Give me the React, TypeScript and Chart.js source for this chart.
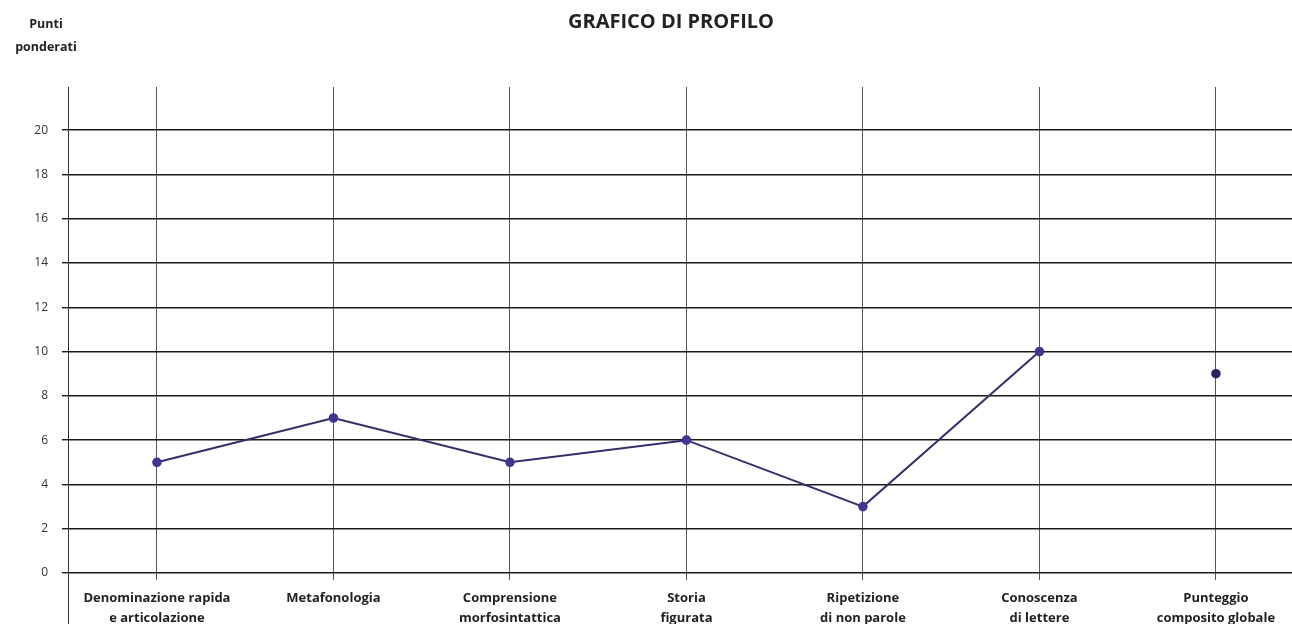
import React, { useEffect, useRef } from "react";
import { Chart, registerables } from "chart.js";

Chart.register(...registerables);

const categories: string[][] = [
  ["Denominazione rapida", "e articolazione"],
  ["Metafonologia"],
  ["Comprensione", "morfosintattica"],
  ["Storia", "figurata"],
  ["Ripetizione", "di non parole"],
  ["Conoscenza", "di lettere"],
  ["Punteggio", "composito globale"],
];
const profileValues: (number | null)[] = [5, 7, 5, 6, 3, 10, null];
const compositeValues: (number | null)[] = [null, null, null, null, null, null, 9];
const yTicks: number[] = [0, 2, 4, 6, 8, 10, 12, 14, 16, 18, 20];

const chartTitle = "GRAFICO DI PROFILO";
const yTitle = ["Punti", "ponderati"];

const FONT = "'Open Sans', 'DejaVu Sans', sans-serif";
const LINE_COLOR = "#322e6c";
const POINT_COLOR = "#3f3792";

export default function App() {
  const ref = useRef<HTMLCanvasElement | null>(null);

  useEffect(() => {
    if (!ref.current) return;
    const toPoints = (vals: (number | null)[]) =>
      vals.map((v, i) => ({ x: i, y: v }));

    const extendAxis = {
      id: "extendAxis",
      afterDraw(chart: any) {
        const { ctx, chartArea } = chart;
        ctx.save();
        ctx.strokeStyle = "#333";
        ctx.lineWidth = 1;
        ctx.beginPath();
        ctx.moveTo(chartArea.left + 0.5, chartArea.top);
        ctx.lineTo(chartArea.left + 0.5, chart.height);
        ctx.stroke();
        ctx.restore();
      },
    };

    const chart = new Chart(ref.current, {
      type: "line",
      data: {
        datasets: [
          {
            data: toPoints(profileValues) as any,
            borderColor: LINE_COLOR,
            backgroundColor: POINT_COLOR,
            borderWidth: 2,
            pointRadius: 3.8,
            pointBackgroundColor: POINT_COLOR,
            pointBorderColor: POINT_COLOR,
            spanGaps: false,
          },
          {
            data: toPoints(compositeValues) as any,
            borderColor: LINE_COLOR,
            backgroundColor: POINT_COLOR,
            pointBackgroundColor: "#2a2660",
            pointBorderColor: "#2a2660",
            borderWidth: 2,
            pointRadius: 3.8,
            showLine: false,
          },
        ],
      },
      options: {
        animation: false,
        responsive: false,
        layout: { autoPadding: false, padding: { top: 87, right: 0, left: 0, bottom: 0 } },
        plugins: {
          legend: { display: false },
          tooltip: { enabled: false },
          title: { display: false },
        },
        scales: {
          x: {
            type: "linear",
            min: -0.504,
            max: 6.431,
            afterFit(scale: any) {
              scale.height = 51;
              scale.paddingLeft = 0;
              scale.paddingRight = 0;
            },
            ticks: {
              stepSize: 1,
              includeBounds: false,
              autoSkip: false,
              maxRotation: 0,
              padding: 9,
              color: "#222",
              font: { family: FONT, size: 13, weight: "bold", lineHeight: 1.5 },
              callback: (v: any) => {
                const i = Number(v);
                return Number.isInteger(i) && categories[i] ? categories[i] : "";
              },
            },
            grid: {
              color: "#555",
              lineWidth: 1,
              tickLength: 7,
              drawOnChartArea: true,
            },
            border: { display: false },
          },
          y: {
            type: "linear",
            min: 0,
            max: 21.95,
            afterFit(scale: any) {
              scale.width = 68;
              scale.paddingTop = 0;
              scale.paddingBottom = 0;
            },
            afterBuildTicks(scale: any) {
              scale.ticks = yTicks.map((v) => ({ value: v }));
            },
            ticks: {
              includeBounds: false,
              padding: 14,
              color: "#333",
              font: { family: FONT, size: 12 },
            },
            grid: {
              color: "#1a1a1a",
              lineWidth: 1.4,
              tickLength: 6,
            },
            border: { display: false },
          },
        },
      },
      plugins: [extendAxis],
    } as any);

    return () => chart.destroy();
  }, []);

  return (
    <div style={{ position: "absolute", left: 0, top: 0, width: 1292, height: 624, background: "#fff" }}>
      <canvas ref={ref} width={1292} height={624} style={{ display: "block" }} />
      <div
        style={{
          position: "absolute",
          left: 671,
          top: 7,
          whiteSpace: "nowrap",
          fontFamily: FONT,
          fontWeight: 700,
          fontSize: 20,
          color: "#222",
          transform: "translateX(-50%)",
        }}
      >
        {chartTitle}
      </div>
      <div
        style={{
          position: "absolute",
          left: 6,
          width: 80,
          top: 12,
          textAlign: "center",
          fontFamily: FONT,
          fontWeight: 700,
          fontSize: 12.5,
          lineHeight: "23px",
          color: "#222",
        }}
      >
        {yTitle.map((t) => (
          <div key={t}>{t}</div>
        ))}
      </div>
    </div>
  );
}
